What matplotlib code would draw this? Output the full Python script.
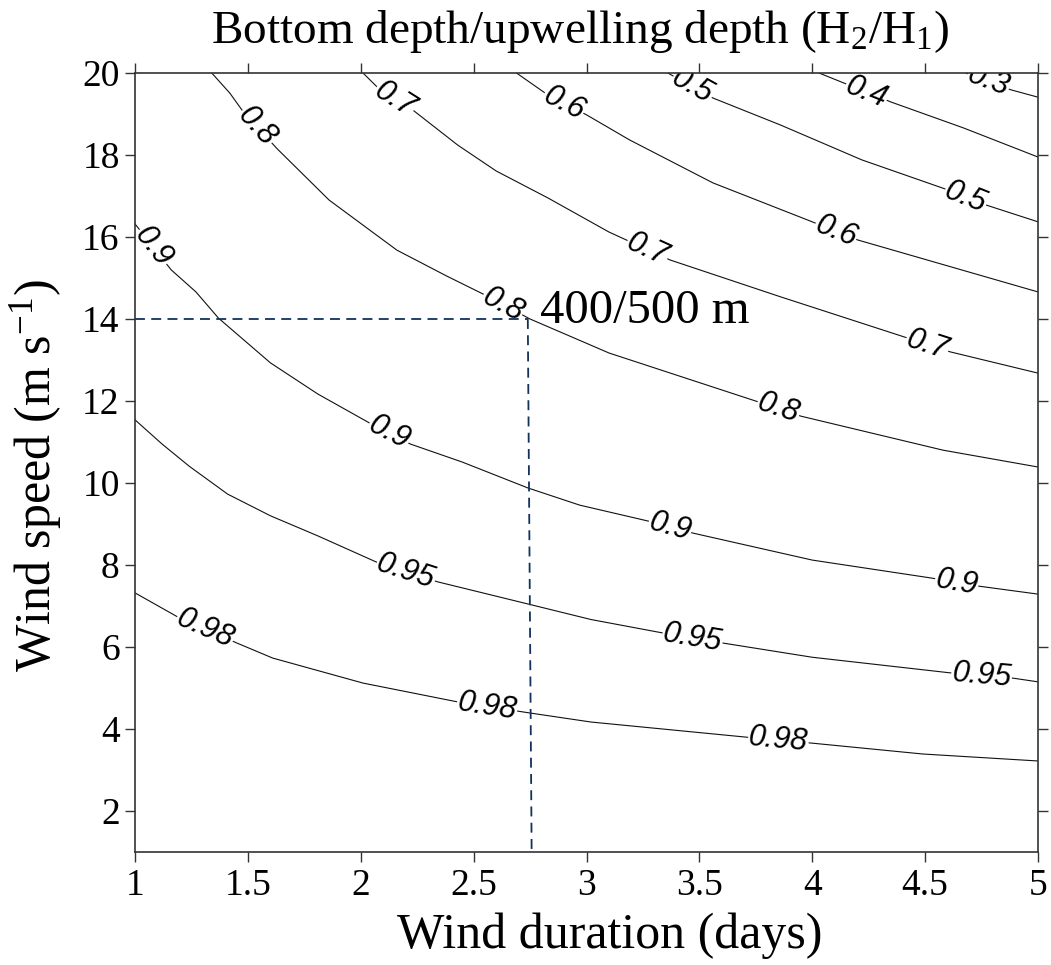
import numpy as np
import matplotlib
matplotlib.use("Agg")
import matplotlib.pyplot as plt

# ---------------- data ----------------
x_ticks = [1, 1.5, 2, 2.5, 3, 3.5, 4, 4.5, 5]
x_ticklabels = ["1", "1.5", "2", "2.5", "3", "3.5", "4", "4.5", "5"]
y_ticks = [2, 4, 6, 8, 10, 12, 14, 16, 18, 20]
y_ticklabels = ["2", "4", "6", "8", "10", "12", "14", "16", "18", "20"]

# contour lines of H2/H1 (wind duration in days, wind speed in m/s)
c098_x = [1.0, 1.19, 1.45, 1.61, 2.01, 2.43, 2.75, 3.02, 3.71, 3.99, 4.49, 5.0]
c098_y = [7.32, 6.73, 6.10, 5.73, 5.12, 4.66, 4.39, 4.17, 3.80, 3.66, 3.39, 3.22]

c095_x = [1.0, 1.12, 1.24, 1.41, 1.60, 1.81, 2.07, 2.34, 2.74, 3.02, 3.34, 3.60, 4.0, 4.61, 4.89, 5.0]
c095_y = [11.54, 10.95, 10.41, 9.73, 9.20, 8.71, 8.07, 7.59, 7.05, 6.67, 6.34, 6.10, 5.75, 5.37, 5.24, 5.15]

c090_x = [1.0, 1.16, 1.27, 1.37, 1.60, 1.81, 2.04, 2.22, 2.45, 2.74, 2.97, 3.29, 3.47, 4.0, 4.53, 4.73, 5.0]
c090_y = [16.32, 15.2, 14.66, 14.02, 12.93, 12.17, 11.46, 10.95, 10.51, 9.88, 9.46, 9.05, 8.78, 8.12, 7.68, 7.49, 7.29]

c080_x = [1.34, 1.42, 1.48, 1.63, 1.86, 2.16, 2.38, 2.56, 2.75, 3.10, 3.76, 3.95, 4.58, 5.0]
c080_y = [20.0, 19.51, 19.05, 18.15, 16.90, 15.68, 15.05, 14.56, 14.0, 13.17, 11.98, 11.63, 10.8, 10.39]

c070_x = [2.01, 2.10, 2.23, 2.43, 2.60, 2.83, 3.10, 3.37, 3.86, 4.42, 4.61, 5.0]
c070_y = [20.0, 19.51, 19.1, 18.24, 17.61, 16.95, 16.12, 15.44, 14.54, 13.54, 13.2, 12.68]

c060_x = [2.69, 2.83, 3.0, 3.19, 3.56, 4.00, 4.20, 5.0]
c060_y = [20.0, 19.46, 18.98, 18.37, 17.32, 16.37, 15.93, 14.66]

c050_x = [3.36, 3.56, 3.86, 4.22, 4.60, 4.77, 5.0]
c050_y = [20.0, 19.39, 18.73, 17.88, 17.15, 16.78, 16.37]

c040_x = [4.03, 4.35, 4.67, 5.0]
c040_y = [20.0, 19.29, 18.66, 17.95]

c030_x = [4.68, 4.88, 5.0]
c030_y = [20.0, 19.59, 19.41]

levels = ["0.98", "0.95", "0.9", "0.8", "0.7", "0.6", "0.5", "0.4", "0.3"]

# example case marked on the chart
case_x = 2.75
case_y = 14.0
case_text = "400/500 m"

# ---------------- drawing ----------------
plt.rcParams["font.family"] = ["Liberation Serif", "DejaVu Serif"]
plt.rcParams["mathtext.fontset"] = "custom"
plt.rcParams["mathtext.rm"] = "Liberation Serif"
plt.rcParams["mathtext.it"] = "Liberation Serif:italic"

W, H = 1051, 965
fig = plt.figure(figsize=(W / 100, H / 100), dpi=100)
ax = fig.add_axes([135 / W, 1 - 852 / H, (1038 - 135) / W, (852 - 73) / H])
ax.set_xlim(1, 5)
ax.set_ylim(1, 20)

lines = {
    "0.98": (c098_x, c098_y),
    "0.95": (c095_x, c095_y),
    "0.9": (c090_x, c090_y),
    "0.8": (c080_x, c080_y),
    "0.7": (c070_x, c070_y),
    "0.6": (c060_x, c060_y),
    "0.5": (c050_x, c050_y),
    "0.4": (c040_x, c040_y),
    "0.3": (c030_x, c030_y),
}

for lv in levels:
    xs, ys = lines[lv]
    ax.plot(xs, ys, color="#111111", lw=0.8, zorder=2, solid_joinstyle="round")

# label placement along each line (x positions of label centres)
label_at = {
    "0.98": [1.31, 2.56, 3.85],
    "0.95": [2.20, 3.47, 4.75],
    "0.9": [1.08, 2.125, 3.37, 4.64],
    "0.8": [1.54, 2.63, 3.85],
    "0.7": [2.15, 3.27, 4.51],
    "0.6": [2.90, 4.105],
    "0.5": [3.47, 4.68],
    "0.4": [4.24],
    "0.3": [4.78],
}

fig.canvas.draw()
for lv in levels:
    xs, ys = lines[lv]
    for xl in label_at[lv]:
        yl = np.interp(xl, xs, ys)
        d = 0.07
        p1 = ax.transData.transform((xl - d, np.interp(xl - d, xs, ys)))
        p2 = ax.transData.transform((xl + d, np.interp(xl + d, xs, ys)))
        ang = np.degrees(np.arctan2(p2[1] - p1[1], p2[0] - p1[0]))
        ax.text(xl, yl, lv, rotation=ang, rotation_mode="anchor",
                ha="center", va="center", fontsize=22, style="italic",
                family=["Liberation Sans", "DejaVu Sans"], color="black",
                bbox=dict(fc="white", ec="none", pad=0.5), zorder=3, clip_on=True)

dash_col = "#12325e"
ax.plot([1, case_x - 0.01], [case_y, case_y], color=dash_col, lw=1.3,
        ls=(0, (5.5, 3.5)), zorder=4)
ax.plot([case_x - 0.01, case_x + 0.007], [case_y, 1], color=dash_col, lw=1.3,
        ls=(0, (5.5, 3.5)), zorder=4)
ax.text(2.794, 13.9, case_text, fontsize=35, ha="left", va="baseline", zorder=5)

ax.set_xticks(x_ticks)
ax.set_xticklabels(x_ticklabels)
ax.set_yticks(y_ticks)
ax.set_yticklabels(y_ticklabels)
ax.tick_params(direction="out", length=7, width=1.0, color="#333333",
               top=True, right=True, labelsize=27, pad=4)
ax.tick_params(axis="x", pad=5)
for s in ax.spines.values():
    s.set_linewidth(1.2)
    s.set_color("#333333")
    s.set_zorder(6)

fig.text(580 / W, 1 - 43 / H, r"Bottom depth/upwelling depth (H$_2$/H$_1$)",
         ha="center", va="baseline", fontsize=34)
fig.text(610 / W, 1 - 948 / H, "Wind duration (days)",
         ha="center", va="baseline", fontsize=36)
fig.text(36 / W, 1 - 476 / H, r"Wind speed (m s$^{\mathregular{-1}}$)",
         ha="center", va="center", rotation=90, fontsize=36)

fig.savefig("out.png", dpi=100)
